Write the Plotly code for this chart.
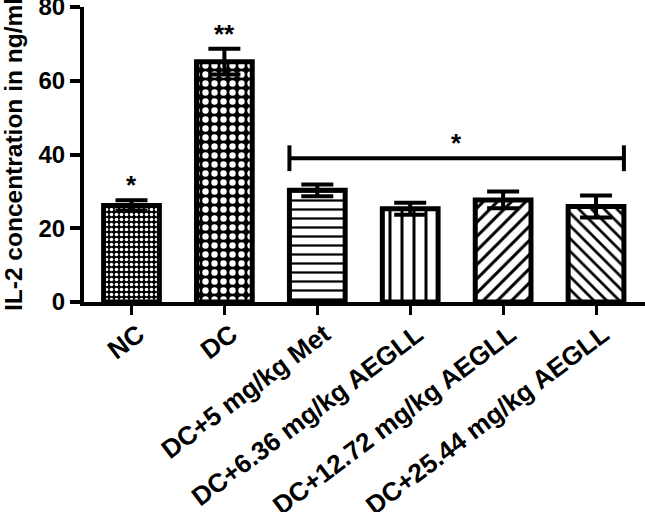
import plotly.graph_objects as go

categories = ["NC", "DC", "DC+5 mg/kg Met", "DC+6.36 mg/kg AEGLL",
              "DC+12.72 mg/kg AEGLL", "DC+25.44 mg/kg AEGLL"]
il2_mean = [26.2, 65.2, 30.3, 25.3, 27.7, 25.9]
il2_sem = [1.4, 3.5, 1.6, 1.6, 2.3, 3.0]
bar_stars = ["*", "**", "", "", "", ""]
group_star = "*"
group_first, group_last = 2, 5
group_level = 39.0
y_ticks = [0, 20, 40, 60, 80]

BAR_W = 0.6
FONT = "Liberation Sans, Arial, sans-serif"

fig = go.Figure()
fig.add_trace(go.Bar(
    x=list(range(len(categories))), y=il2_mean, width=BAR_W,
    marker=dict(
        color="white",
        line=dict(color="black", width=5),
        pattern=dict(
            shape=[".", ".", "-", "|", "/", "\\"],
            fillmode="replace",
            bgcolor=["black", "black", "white", "white", "white", "white"],
            fgcolor=["white", "white", "black", "black", "black", "black"],
            size=[5, 9, 9, 12, 10, 9],
            solidity=[0.4, 0.4, 0.25, 0.25, 0.3, 0.3],
        ),
    ),
    error_y=dict(type="data", array=il2_sem, visible=True,
                 color="black", thickness=4, width=16),
    showlegend=False,
))

for i, s in enumerate(bar_stars):
    if s:
        fig.add_annotation(x=i, y=il2_mean[i] + il2_sem[i], text=s,
                           showarrow=False, yanchor="bottom", yshift=-2,
                           font=dict(family=FONT, size=26, color="black", weight="bold"))

x0 = group_first - BAR_W / 2
x1 = group_last + BAR_W / 2
fig.add_shape(type="line", x0=x0, x1=x1, y0=group_level, y1=group_level,
              line=dict(color="black", width=4))
for xx in (x0, x1):
    fig.add_shape(type="line", x0=xx, x1=xx, y0=group_level - 3.5, y1=group_level + 3.5,
                  line=dict(color="black", width=4))
fig.add_annotation(x=(x0 + x1) / 2, y=group_level, text=group_star, showarrow=False,
                   yanchor="bottom", yshift=-2,
                   font=dict(family=FONT, size=26, color="black", weight="bold"))

fig.update_layout(
    width=645, height=512,
    margin=dict(l=84, r=0, t=7, b=210),
    plot_bgcolor="white", paper_bgcolor="white",
    font=dict(family=FONT, color="black", weight="bold"),
)
fig.update_xaxes(
    range=[-0.511, 5.527], automargin=False, ticklabeloverflow="allow",
    tickmode="array", tickvals=list(range(len(categories))), ticktext=categories,
    tickangle=-37, tickfont=dict(family=FONT, size=26, weight="bold"),
    ticklabelshift=7, ticklabelstandoff=-6,
    showline=True, linecolor="black", linewidth=4,
    ticks="outside", ticklen=9, tickwidth=3, tickcolor="black",
    showgrid=False, zeroline=False,
)
fig.update_yaxes(
    range=[0, 80.02], automargin=False, ticklabeloverflow="allow", tickvals=y_ticks,
    tickfont=dict(family=FONT, size=24, weight="bold"),
    title=dict(text="IL-2 concentration in ng/ml",
               font=dict(family=FONT, size=24.5, weight="bold"), standoff=30),
    showline=True, linecolor="black", linewidth=4,
    ticks="outside", ticklen=10, tickwidth=4, tickcolor="black",
    showgrid=False, zeroline=False,
)

fig.write_html("out.html", config={"displayModeBar": False},
               post_script="document.body.style.margin='0';")
